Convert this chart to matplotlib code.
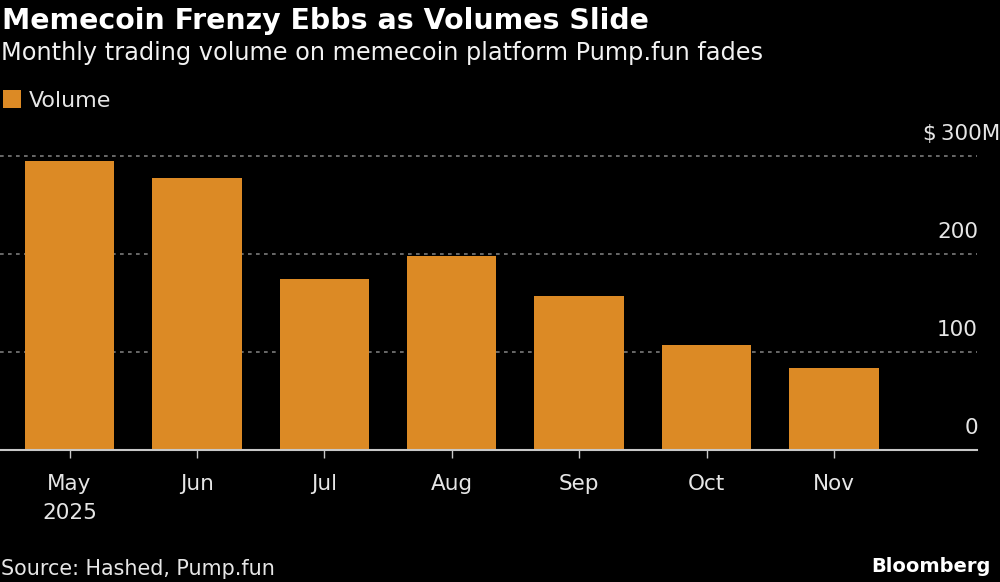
# %%
import matplotlib
matplotlib.use("Agg")
import matplotlib.pyplot as plt
from matplotlib.patches import Rectangle

# Chart data
months = ["May\n2025", "Jun", "Jul", "Aug", "Sep", "Oct", "Nov"]
volume = [294, 277, 173.5, 197, 156.5, 106.5, 83]
y_ticks = [0, 100, 200, 300]
y_labels = ["0", "100", "200", "$\u2009300M"]

BAR_COLOR = "#dc8a25"
TEXT_COLOR = "#e6e6e6"
W, H = 1000, 582

plt.rcParams["font.family"] = "DejaVu Sans"

fig = plt.figure(figsize=(W / 100, H / 100), dpi=100, facecolor="black")
# axes box in pixels: baseline at y=449.5, $300M gridline at y=155.5
ax = fig.add_axes([0, (H - 449.5) / H, 977 / W, 294 / H], facecolor="black")

x = range(len(months))
ax.bar(x, volume, width=0.703, color=BAR_COLOR, zorder=2)
ax.set_xlim(-69.5 / 127.4, (977 - 69.5) / 127.4)
ax.set_ylim(0, 300)

for s in ["top", "left", "right"]:
    ax.spines[s].set_visible(False)
ax.spines["bottom"].set_color("#c8c8c8")
ax.spines["bottom"].set_linewidth(1.5)
ax.spines["bottom"].set_zorder(3)

ax.set_xticks(list(x))
ax.set_xticklabels(months, fontsize=15.5, color=TEXT_COLOR, linespacing=1.55)
ax.tick_params(axis="x", length=6, width=1, color="#c8c8c8", pad=12)

ax.set_yticks([])
for t, lab in zip(y_ticks, y_labels):
    if t > 0:
        ax.axhline(t, color="#7a7a7a", lw=1.2, ls=(0, (2.2, 2.6)), zorder=1, clip_on=False)
    tx = 1000 / 977 if t == 300 else 1.001
    ax.annotate(lab, xy=(tx, t), xycoords=("axes fraction", "data"),
                xytext=(0, 12), textcoords="offset pixels",
                ha="right", va="bottom", fontsize=15.5, color=TEXT_COLOR,
                annotation_clip=False)

# headers and footer
fig.text(2 / W, 1 - 29 / H, "Memecoin Frenzy Ebbs as Volumes Slide",
         fontsize=20.4, fontweight="bold", color="white", ha="left", va="baseline")
fig.text(1 / W, 1 - 60 / H, "Monthly trading volume on memecoin platform Pump.fun fades",
         fontsize=17.25, color="#f2f2f2", ha="left", va="baseline")

# legend
fig.add_artist(Rectangle((3 / W, 1 - 108 / H), 18 / W, 18 / H, transform=fig.transFigure,
                         facecolor=BAR_COLOR, edgecolor="none"))
fig.text(29 / W, 1 - 107 / H, "Volume", fontsize=15.9, color=TEXT_COLOR,
         ha="left", va="baseline")

fig.text(1 / W, 1 - 575 / H, "Source: Hashed, Pump.fun", fontsize=14.85,
         color=TEXT_COLOR, ha="left", va="baseline")
fig.text(991 / W, 1 - 572 / H, "Bloomberg", fontsize=14, fontweight="bold",
         color="white", ha="right", va="baseline")

fig.savefig("out.png", dpi=100, facecolor="black")
